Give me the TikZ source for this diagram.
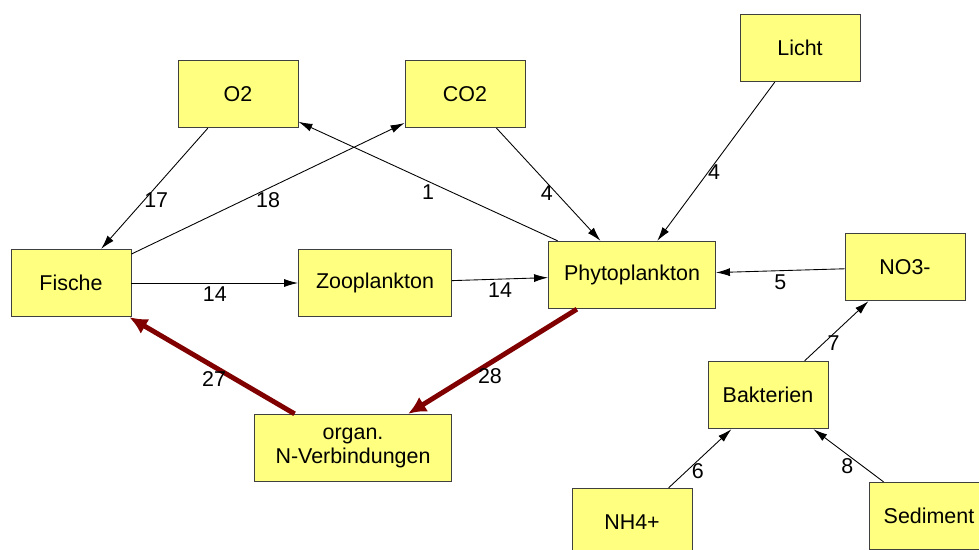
\documentclass[tikz,border=0pt]{standalone}
\usepackage{fontspec}
\setmainfont{Liberation Sans}
\usetikzlibrary{arrows.meta}
\definecolor{boxfill}{RGB}{255,255,128}
\definecolor{boxline}{RGB}{64,64,64}
\definecolor{flowred}{RGB}{128,0,0}
\tikzset{>={Latex[length=0.28cm,width=0.16cm]}, x=0.02cm, y=-0.02cm,
every node/.style={font=\fontsize{12.2}{14}\selectfont},
box/.style={draw=boxline, line width=0.5pt, fill=boxfill, minimum width=2.4cm,
  minimum height=1.35cm, inner sep=0pt, align=center},
flow/.style={->, line width=0.5pt},
bigflow/.style={-{Latex[length=0.36cm,width=0.34cm]}, line width=2.8pt, draw=flowred},
}

\begin{document}
\begin{tikzpicture}
	\useasboundingbox (0,0) rectangle (979,549);
	\clip (0,0) rectangle (979,549);
	% boxes
	\node[box] (otwo) at (238,94) {O2};
	\node[box] (cotwo) at (465,94) {CO2};
	\node[box] (licht) at (800,48) {Licht};
	\node[box] (fische) at (71,283) {Fische};
	\node[box, minimum width=3.06cm] (zoo) at (375,283) {Zooplankton};
	\node[box, minimum width=3.34cm] (phyto) at (632,275) {Phytoplankton};
	\node[box] (nothree) at (905,267) {NO3-};
	\node[box, minimum width=3.94cm] (nverb) at (353,448) {organ.\\N-Verbindungen};
	\node[box] (bakt) at (768,395) {Bakterien};
	\node[box] (nhfour) at (632,522) {NH4+};
	\node[box] (sediment) at (929,516) {Sediment};
	% flows
	\draw[flow] (otwo) -- (fische) node[pos=0.6, anchor=west, inner sep=0pt] {17};
	\draw[flow] (fische) -- (cotwo) node[pos=0.5, anchor=north, inner sep=2pt] {18};
	\draw[flow] (phyto) -- (otwo) node[pos=0.5, anchor=north, inner sep=2pt] {1};
	\draw[flow] (cotwo) -- (phyto) node[pos=0.58, anchor=east, inner sep=2pt] {4};
	\draw[flow] (licht) -- (phyto) node[pos=0.57, anchor=west, inner sep=0pt] {4};
	\draw[flow] (nothree) -- (phyto) node[pos=0.5, anchor=north, inner sep=2pt] {5};
	\draw[flow] (fische) -- (zoo) node[pos=0.5, anchor=north, inner sep=2pt] {14};
	\draw[flow] (zoo) -- (phyto) node[pos=0.5, anchor=north, inner sep=2pt] {14};
	\draw[flow] (bakt) -- (nothree) node[pos=0.3, anchor=west, inner sep=2pt] {7};
	\draw[flow] (nhfour) -- (bakt) node[pos=0.28, anchor=west, inner sep=3pt] {6};
	\draw[flow] (sediment) -- (bakt) node[pos=0.3, anchor=east, inner sep=5pt] {8};
	\draw[bigflow] (phyto) -- (nverb) node[pos=0.6, anchor=north west, inner sep=0pt, yshift=0.12cm] {28};
	\draw[bigflow] (nverb) -- (fische) node[pos=0.4, anchor=north east, inner sep=0pt, yshift=0.12cm] {27};
\end{tikzpicture}
\end{document}
